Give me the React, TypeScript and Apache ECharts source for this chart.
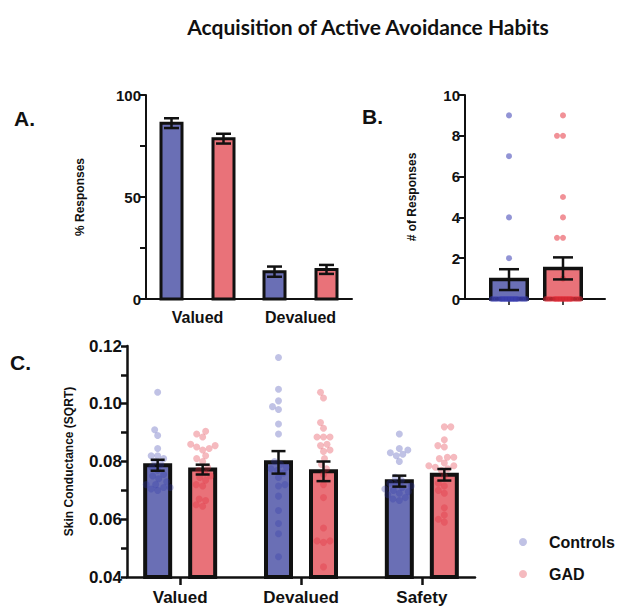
import React, { useEffect, useRef } from 'react';
import * as echarts from 'echarts';

// ---------------- data ----------------
const titleText = 'Acquisition of Active Avoidance Habits';
const groupNames = ['Controls', 'GAD'];

// Panel A: % responses
const aCategories = ['Valued', 'Devalued'];
const aControlsMean = [86.2, 13.4];
const aControlsSem = [2.4, 2.5];
const aGadMean = [78.6, 14.5];
const aGadSem = [2.4, 2.2];
const aYTicks = [0, 50, 100];

// Panel B: # of responses
const bCategories = ['Controls', 'GAD'];
const bControlsPoints = [9, 7, 4, 2, 0, 0, 0, 0, 0, 0, 0, 0, 0, 0, 0, 0, 0, 0, 0, 0, 0, 0, 0];
const bGadPoints = [9, 8, 8, 5, 4, 3, 3, 1, 0, 0, 0, 0, 0, 0, 0, 0, 0, 0, 0, 0, 0, 0, 0, 0, 0, 0, 0];
const bMean = [0.95, 1.5];
const bSem = [0.51, 0.54];
const bYTicks = [0, 2, 4, 6, 8, 10];

// Panel C: skin conductance (SQRT)
const cCategories = ['Valued', 'Devalued', 'Safety'];
const cControlsMean = [0.0787, 0.0797, 0.0732];
const cControlsSem = [0.0019, 0.0039, 0.0019];
const cGadMean = [0.0772, 0.0766, 0.0754];
const cGadSem = [0.0017, 0.0034, 0.002];
const cYTicks = [0.04, 0.06, 0.08, 0.1, 0.12];
const cControlsValued = [0.104, 0.091, 0.089, 0.0845, 0.082, 0.082, 0.081, 0.08, 0.079, 0.078, 0.077, 0.0755, 0.075, 0.074, 0.073, 0.072, 0.072, 0.071, 0.071, 0.0705, 0.07];
const cControlsDevalued = [0.116, 0.105, 0.101, 0.099, 0.098, 0.093, 0.0895, 0.08, 0.079, 0.078, 0.0775, 0.077, 0.076, 0.0745, 0.072, 0.0715, 0.068, 0.063, 0.0585, 0.055, 0.047];
const cControlsSafety = [0.0895, 0.0845, 0.084, 0.083, 0.0825, 0.082, 0.08, 0.0745, 0.0735, 0.0725, 0.072, 0.0715, 0.071, 0.0705, 0.07, 0.0695, 0.069, 0.0685, 0.0675, 0.067, 0.0665];
const cGadValued = [0.0905, 0.0895, 0.0885, 0.086, 0.0855, 0.085, 0.0845, 0.084, 0.082, 0.081, 0.08, 0.078, 0.077, 0.076, 0.075, 0.0745, 0.0735, 0.072, 0.0715, 0.067, 0.0665, 0.065, 0.0645];
const cGadDevalued = [0.104, 0.102, 0.0935, 0.0915, 0.0885, 0.0885, 0.0885, 0.086, 0.0855, 0.084, 0.0835, 0.081, 0.079, 0.0775, 0.0755, 0.072, 0.0675, 0.057, 0.0525, 0.0525, 0.052, 0.0435];
const cGadSafety = [0.092, 0.092, 0.0875, 0.0855, 0.085, 0.0815, 0.0815, 0.081, 0.0795, 0.0785, 0.0785, 0.078, 0.0775, 0.077, 0.075, 0.0725, 0.0715, 0.07, 0.069, 0.064, 0.0615, 0.06, 0.059];

// ---------------- layout / style ----------------
const FONT = "'Liberation Sans', Arial, Helvetica, sans-serif";
const INK = '#111111';
const BLUE = '#6a6fb5';
const RED = '#e97279';

const gridA = { left: 146, top: 95, width: 206, height: 204 };
const gridB = { left: 465, top: 95, width: 140, height: 204 };
const gridC = { left: 127, top: 346, width: 348, height: 231 };

const aX = { min: -0.5, max: 1.5 };
const bX = { min: -0.815, max: 1.778 };
const cX = { min: -0.44, max: 2.44 };

const pxX = (g: any, r: any) => g.width / (r.max - r.min);
const pxY = (g: any, ticks: number[]) => g.height / (ticks[ticks.length - 1] - ticks[0]);
const step = (t: number[]) => Number((t[1] - t[0]).toFixed(6));

function swarmOffsets(values: number[], pxPerUnit: number, diam: number, maxHalf: number): number[] {
  const order = values.map((_, i) => i).sort((a, b) => values[a] - values[b]);
  const placed: { x: number; y: number }[] = [];
  const out = new Array(values.length).fill(0);
  for (const i of order) {
    const y = values[i] * pxPerUnit;
    let chosen: number | null = null;
    let best = 0;
    let bestScore = -Infinity;
    const flip = placed.length % 2 === 1;
    for (let k = 0; k <= maxHalf + 1e-9; k += 0.5) {
      const cands = k === 0 ? [0] : flip ? [-k, k] : [k, -k];
      for (const c of cands) {
        let minD = Infinity;
        for (const p of placed) {
          const d = Math.hypot(p.x - c, p.y - y);
          if (d < minD) minD = d;
        }
        if (minD >= diam) { chosen = c; break; }
        if (minD > bestScore + 1e-6) { bestScore = minD; best = c; }
      }
      if (chosen !== null) break;
    }
    const x = chosen !== null ? chosen : best;
    placed.push({ x, y });
    out[i] = x;
  }
  return out;
}

function scatterData(groups: number[][], offsetPx: number, pxPerX: number, pxPerY: number, diam: number, maxHalf: number) {
  const data: number[][] = [];
  groups.forEach((vals, ci) => {
    const offs = swarmOffsets(vals, pxPerY, diam, maxHalf);
    vals.forEach((v, j) => data.push([ci + (offsetPx + offs[j]) / pxPerX, v]));
  });
  return data;
}

function barSeries(name: string, axis: number, means: number[], offsetUnits: number, width: number, fill: string | ((i: number) => string), border: number, yMin: number) {
  return {
    name, type: 'custom', xAxisIndex: axis, yAxisIndex: axis, z: 2,
    encode: { x: 0, y: 1 },
    data: means.map((m, i) => [i, m]),
    renderItem: (p: any, api: any) => {
      const x = api.value(0) + offsetUnits;
      const top = api.coord([x, api.value(1)]);
      const base = api.coord([x, yMin]);
      const f = typeof fill === 'function' ? fill(p.dataIndex) : fill;
      return {
        type: 'rect',
        shape: { x: top[0] - width / 2, y: top[1], width, height: base[1] - top[1] },
        style: { fill: f, stroke: INK, lineWidth: border },
      };
    },
  };
}

function errorSeries(name: string, axis: number, means: number[], sems: number[], offsetUnits: number, cap: number, lw: number) {
  return {
    name, type: 'custom', xAxisIndex: axis, yAxisIndex: axis, z: 4,
    encode: { x: 0, y: 1 },
    data: means.map((m, i) => [i, m, sems[i]]),
    renderItem: (_p: any, api: any) => {
      const x = api.value(0) + offsetUnits;
      const m = api.value(1);
      const s = api.value(2);
      const hi = api.coord([x, m + s]);
      const lo = api.coord([x, m - s]);
      const st = { stroke: INK, lineWidth: lw, lineCap: 'butt' };
      return {
        type: 'group',
        children: [
          { type: 'line', shape: { x1: hi[0], y1: hi[1], x2: lo[0], y2: lo[1] }, style: st },
          { type: 'line', shape: { x1: hi[0] - cap / 2, y1: hi[1], x2: hi[0] + cap / 2, y2: hi[1] }, style: st },
          { type: 'line', shape: { x1: lo[0] - cap / 2, y1: lo[1], x2: lo[0] + cap / 2, y2: lo[1] }, style: st },
        ],
      };
    },
  };
}

function yAxisCfg(grid: number, ticks: number[], name: string, nameGap: number, labelSize: number, lw: number, fmt?: (v: number) => string) {
  return {
    gridIndex: grid, type: 'value', min: ticks[0], max: ticks[ticks.length - 1], interval: step(ticks),
    name, nameLocation: 'middle', nameRotate: 90, nameGap,
    nameTextStyle: { fontFamily: FONT, fontWeight: 'bold', fontSize: 12, color: INK },
    axisLine: { show: true, onZero: false, lineStyle: { color: INK, width: lw } },
    axisTick: { show: true, length: 6, lineStyle: { color: INK, width: lw } },
    minorTick: { show: grid !== 1, splitNumber: 2, length: 6, lineStyle: { color: INK, width: lw } },
    splitLine: { show: false },
    axisLabel: { fontFamily: FONT, fontWeight: 'bold', fontSize: labelSize, color: INK, margin: 5, formatter: fmt },
  };
}

function buildOption() {
  const aPxX = pxX(gridA, aX);
  const bPxX = pxX(gridB, bX);
  const cPxX = pxX(gridC, cX);
  const bPxY = pxY(gridB, bYTicks);
  const cPxY = pxY(gridC, cYTicks);
  const aOff = 26 / aPxX;
  const cOff = 22.5 / cPxX;

  return {
    animation: false,
    backgroundColor: '#ffffff',
    grid: [
      { ...gridA, outerBoundsMode: 'none' },
      { ...gridB, outerBoundsMode: 'none' },
      { ...gridC, outerBoundsMode: 'none' },
    ],
    legend: {
      data: groupNames, orient: 'vertical', left: 519, top: 534, padding: 0,
      itemWidth: 8, itemHeight: 8, itemGap: 16, icon: 'circle', selectedMode: false,
      textStyle: { fontFamily: FONT, fontWeight: 'bold', fontSize: 16, color: INK, padding: [0, 0, 0, 17] },
    },
    graphic: [
      { type: 'text', x: 368, y: 26, style: { text: titleText, fontFamily: 'Lato', fontWeight: 'bold', fontSize: 21, fill: INK, align: 'center', verticalAlign: 'middle' } },
      { type: 'text', x: 14, y: 118, style: { text: 'A.', fontFamily: FONT, fontWeight: 'bold', fontSize: 21, fill: INK, verticalAlign: 'middle' } },
      { type: 'text', x: 362, y: 116, style: { text: 'B.', fontFamily: FONT, fontWeight: 'bold', fontSize: 21, fill: INK, verticalAlign: 'middle' } },
      { type: 'text', x: 10, y: 362, style: { text: 'C.', fontFamily: FONT, fontWeight: 'bold', fontSize: 21, fill: INK, verticalAlign: 'middle' } },
    ],
    xAxis: [
      {
        gridIndex: 0, type: 'value', min: aX.min, max: aX.max,
        axisLine: { show: true, onZero: false, lineStyle: { color: INK, width: 2 } },
        axisTick: { show: false }, splitLine: { show: false },
        axisLabel: { customValues: [0, 1], formatter: (v: number) => aCategories[Math.round(v)], fontFamily: FONT, fontWeight: 'bold', fontSize: 16, color: INK, margin: 10 },
      },
      {
        gridIndex: 1, type: 'value', min: bX.min, max: bX.max,
        axisLine: { show: true, onZero: false, lineStyle: { color: INK, width: 2 } },
        axisTick: { show: true, customValues: [0, 1], length: 6, lineStyle: { color: INK, width: 1.5 } },
        splitLine: { show: false },
        axisLabel: { show: false, customValues: [0, 1], formatter: (v: number) => bCategories[Math.round(v)] },
      },
      {
        gridIndex: 2, type: 'value', min: cX.min, max: cX.max,
        axisLine: { show: true, onZero: false, lineStyle: { color: INK, width: 2.5 } },
        axisTick: { show: true, customValues: [0, 1, 2], length: 8, lineStyle: { color: INK, width: 2.5 } },
        splitLine: { show: false },
        axisLabel: { customValues: [0, 1, 2], formatter: (v: number) => cCategories[Math.round(v)], fontFamily: FONT, fontWeight: 'bold', fontSize: 17, color: INK, margin: 12 },
      },
    ],
    yAxis: [
      yAxisCfg(0, aYTicks, '% Responses', 60, 15, 2),
      yAxisCfg(1, bYTicks, '# of Responses', 47, 15, 2),
      yAxisCfg(2, cYTicks, 'Skin Conductance (SQRT)', 52, 17, 2.5, (v: number) => v.toFixed(2)),
    ],
    series: [
      // Panel A
      barSeries('A Controls', 0, aControlsMean, -aOff, 21, BLUE, 3, aYTicks[0]),
      barSeries('A GAD', 0, aGadMean, aOff, 21, RED, 3, aYTicks[0]),
      errorSeries('A Controls SEM', 0, aControlsMean, aControlsSem, -aOff, 15, 2.5),
      errorSeries('A GAD SEM', 0, aGadMean, aGadSem, aOff, 15, 2.5),
      // Panel B
      barSeries('B bars', 1, bMean, 0, 36.5, (i: number) => (i === 0 ? BLUE : RED), 3.5, bYTicks[0]),
      {
        name: 'B Controls points', type: 'scatter', xAxisIndex: 1, yAxisIndex: 1, z: 3, symbolSize: 6,
        itemStyle: { color: 'rgba(60,65,180,0.7)' },
        data: scatterData([bControlsPoints], 0, bPxX, bPxY, 6, 17),
      },
      {
        name: 'B GAD points', type: 'scatter', xAxisIndex: 1, yAxisIndex: 1, z: 3, symbolSize: 6,
        itemStyle: { color: 'rgba(228,45,55,0.65)' },
        data: scatterData([[], bGadPoints], 0, bPxX, bPxY, 6, 17),
      },
      errorSeries('B SEM', 1, bMean, bSem, 0, 20, 2.5),
      // Panel C
      barSeries('C Controls bars', 2, cControlsMean, -cOff, 25, BLUE, 4, cYTicks[0]),
      barSeries('C GAD bars', 2, cGadMean, cOff, 25, RED, 4, cYTicks[0]),
      {
        name: 'Controls', type: 'scatter', xAxisIndex: 2, yAxisIndex: 2, z: 3, symbolSize: 7,
        itemStyle: { color: 'rgba(50,55,170,0.38)' },
        data: scatterData([cControlsValued, cControlsDevalued, cControlsSafety], -22.5, cPxX, cPxY, 6.5, 17),
      },
      {
        name: 'GAD', type: 'scatter', xAxisIndex: 2, yAxisIndex: 2, z: 3, symbolSize: 7,
        itemStyle: { color: 'rgba(225,40,55,0.4)' },
        data: scatterData([cGadValued, cGadDevalued, cGadSafety], 22.5, cPxX, cPxY, 6.5, 17),
      },
      errorSeries('C Controls SEM', 2, cControlsMean, cControlsSem, -cOff, 14, 2.5),
      errorSeries('C GAD SEM', 2, cGadMean, cGadSem, cOff, 14, 2.5),
    ],
  };
}

export default function App() {
  const ref = useRef<HTMLDivElement>(null);
  useEffect(() => {
    if (!ref.current) return;
    const chart = echarts.init(ref.current, undefined, { renderer: 'svg' });
    chart.setOption(buildOption() as any);
    return () => chart.dispose();
  }, []);
  return <div ref={ref} style={{ position: 'fixed', left: 0, top: 0, width: 618, height: 607, background: '#fff' }} />;
}
